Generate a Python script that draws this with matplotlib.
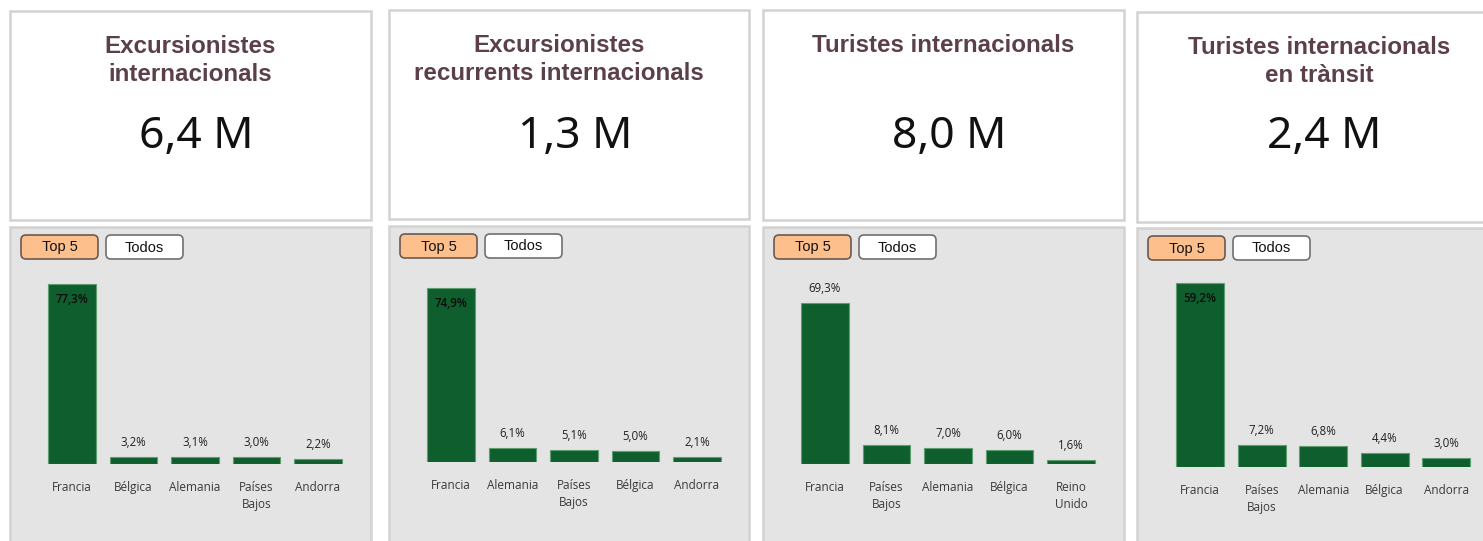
import math
import matplotlib
matplotlib.use("Agg")
import matplotlib.pyplot as plt
from matplotlib.patches import Rectangle, FancyBboxPatch

# ---------------- data ----------------
titles = [
    "Excursionistes\ninternacionals",
    "Excursionistes\nrecurrents internacionals",
    "Turistes internacionals",
    "Turistes internacionals\nen trànsit",
]
totals = ["6,4 M", "1,3 M", "8,0 M", "2,4 M"]

cats_1 = ["Francia", "Bélgica", "Alemania", "Países\nBajos", "Andorra"]
vals_1 = [77.3, 3.2, 3.1, 3.0, 2.2]
cats_2 = ["Francia", "Alemania", "Países\nBajos", "Bélgica", "Andorra"]
vals_2 = [74.9, 6.1, 5.1, 5.0, 2.1]
cats_3 = ["Francia", "Países\nBajos", "Alemania", "Bélgica", "Reino\nUnido"]
vals_3 = [69.3, 8.1, 7.0, 6.0, 1.6]
cats_4 = ["Francia", "Países\nBajos", "Alemania", "Bélgica", "Andorra"]
vals_4 = [59.2, 7.2, 6.8, 4.4, 3.0]

button_labels = ["Top 5", "Todos"]

all_cats = [cats_1, cats_2, cats_3, cats_4]
all_vals = [vals_1, vals_2, vals_3, vals_4]

# ---------------- layout (pixels) ----------------
W, H = 1483, 541
# card: left, top, width, height
cards = [(10, 11, 361, 209), (389, 10, 360, 209), (763, 10, 361, 210), (1137, 12, 362, 210)]
title_dx = [0, -10, 0, 1]
gray_tops = [227, 226, 227, 228]
baselines = [464, 462.3, 464, 467]
axes_left_off = [31.3, 31.3, 31.3, 32.5]
axes_w = 307.4
axes_h = 186

TITLE_C = "#5b4049"
BAR_C = "#0f5f2e"
BAR_EDGE = "#5e9e6e"
BORDER = "#d2d2d2"
GRAY = "#e4e4e4"

fig = plt.figure(figsize=(W / 100, H / 100), dpi=100)
fig.patch.set_facecolor("white")
bg = fig.add_axes([0, 0, 1, 1])
bg.set_xlim(0, W)
bg.set_ylim(H, 0)
bg.axis("off")

for i in range(4):
    x, y, w, h = cards[i]
    # white card
    bg.add_patch(Rectangle((x, y), w, h, facecolor="white", edgecolor=BORDER, lw=1.8))
    cx = x + w / 2
    bg.text(cx + title_dx[i], y + 24, titles[i], ha="center", va="top", fontsize=17.4,
            fontweight="bold", color=TITLE_C, family="Liberation Sans",
            linespacing=1.28)
    bg.text(cx + 6, 148, totals[i], ha="center", va="baseline", fontsize=32,
            color="#111111", family="Noto Sans")
    # gray panel
    gt = gray_tops[i]
    bg.add_patch(Rectangle((x, gt), w, H + 10 - gt, facecolor=GRAY, edgecolor=BORDER, lw=1.8))
    # buttons
    bx = x + 11
    by = gt + 8
    for j, lab in enumerate(button_labels):
        fc = "#fdbf8b" if j == 0 else "white"
        ec = "#6a5a52" if j == 0 else "#707070"
        bxx = bx + j * 85
        bg.add_patch(FancyBboxPatch((bxx, by), 77, 24,
                                    boxstyle="round,pad=0,rounding_size=5",
                                    facecolor=fc, edgecolor=ec, lw=1.2))
        bg.text(bxx + 38.5, by + 12.5, lab, ha="center", va="center",
                fontsize=10.5, color="#111111", family="Liberation Sans")

    # bar chart axes
    left = x + axes_left_off[i]
    bottom = baselines[i]
    ax = fig.add_axes([left / W, (H - bottom) / H, axes_w / W, axes_h / H])
    ax.set_facecolor("none")
    vals = all_vals[i]
    cats = all_cats[i]
    ymax = math.ceil(max(vals) / 20) * 20
    pos = list(range(len(vals)))
    ax.bar(pos, vals, width=0.78, color=BAR_C, edgecolor=BAR_EDGE, linewidth=0.8)
    ax.set_xlim(-0.5, len(vals) - 0.5)
    ax.set_ylim(0, ymax)
    for sp in ax.spines.values():
        sp.set_visible(False)
    ax.set_yticks([])
    ax.set_xticks(pos)
    ax.set_xticklabels(cats, fontsize=8.5, color="#3a3a3a", family="Open Sans",
                       linespacing=1.45)
    ax.tick_params(axis="x", length=0, pad=12)
    for p, v in zip(pos, vals):
        lab = f"{v:.1f}%".replace(".", ",")
        if v / ymax > 0.9:
            ax.annotate(lab, (p, v), xytext=(0, -9), textcoords="offset pixels",
                        ha="center", va="top", fontsize=8.3, color="#0a0a0a",
                        family="Open Sans", fontweight="semibold")
        else:
            ax.annotate(lab, (p, v), xytext=(0, 8), textcoords="offset pixels",
                        ha="center", va="bottom", fontsize=8.3, color="#222222",
                        family="Open Sans")

fig.savefig("out.png", dpi=100, facecolor="white")
